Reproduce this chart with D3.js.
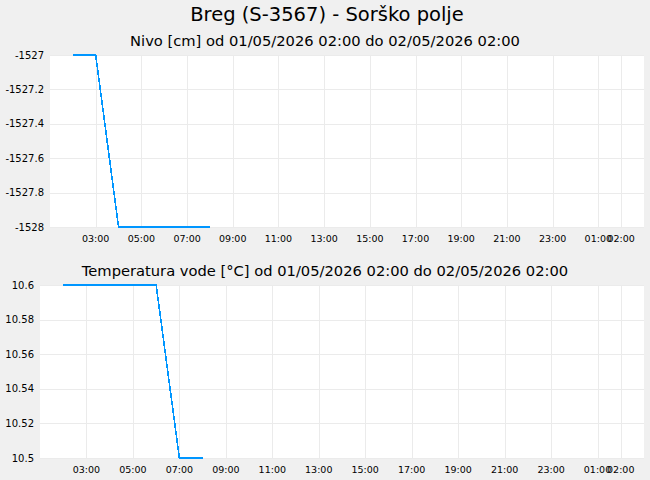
<!DOCTYPE html>
<html>
<head>
<meta charset="utf-8">
<script src="https://cdn.jsdelivr.net/npm/d3@7"></script>
<style>
  body { margin: 0; background: #f0f0f0; }
  svg { display: block; font-family: "DejaVu Sans", sans-serif; }
</style>
</head>
<body>
<div id="chart"></div>
<script>
// Readings (hourly) for station Breg (S-3567)
const times = ["2026-05-01T02:00", "2026-05-01T03:00", "2026-05-01T04:00", "2026-05-01T05:00",
  "2026-05-01T06:00", "2026-05-01T07:00", "2026-05-01T08:00"];
const levelValues = [-1527, -1527, -1528, -1528, -1528, -1528, -1528];
const tempValues = [10.6, 10.6, 10.6, 10.6, 10.6, 10.5, 10.5];

const periodStart = "2026-05-01T02:00";
const periodEnd = "2026-05-02T02:00";
const levelTicks = [-1527, -1527.2, -1527.4, -1527.6, -1527.8, -1528];
const tempTicks = [10.6, 10.58, 10.56, 10.54, 10.52, 10.5];

const title = "Breg (S-3567) - Sorško polje";
const levelTitle = "Nivo [cm] od 01/05/2026 02:00 do 02/05/2026 02:00";
const tempTitle = "Temperatura vode [°C] od 01/05/2026 02:00 do 02/05/2026 02:00";

const width = 650, height = 480;
const lineColor = "#0096ff";
const gridColor = "#ebebeb";

const svg = d3.select("#chart")
  .append("svg")
  .attr("width", width)
  .attr("height", height);

svg.append("rect").attr("width", width).attr("height", height).attr("fill", "#f0f0f0");

svg.append("text")
  .attr("x", width / 2 + 2)
  .attr("y", 14)
  .attr("text-anchor", "middle")
  .attr("dominant-baseline", "central")
  .attr("font-size", "19.5px")
  .text(title);

const start = new Date(periodStart);
const end = new Date(periodEnd);

function drawPanel(box, values, ticks, label) {
  // x domain padded by one hour on each side
  const x = d3.scaleTime()
    .domain([d3.timeHour.offset(start, -1), d3.timeHour.offset(end, 1)])
    .range([box.left, box.right]);
  const y = d3.scaleLinear()
    .domain([d3.min(ticks), d3.max(ticks)])
    .range([box.bottom, box.top]);

  const xTicks = d3.timeHour.range(d3.timeHour.offset(start, 1), end, 2).concat([end]);

  svg.append("text")
    .attr("x", width / 2)
    .attr("y", box.top - 15)
    .attr("text-anchor", "middle")
    .attr("dominant-baseline", "central")
    .attr("font-size", "14.7px")
    .text(label);

  svg.append("rect")
    .attr("x", box.left)
    .attr("y", box.top)
    .attr("width", box.right - box.left)
    .attr("height", box.bottom - box.top)
    .attr("fill", "#fff");

  const g = svg.append("g").attr("shape-rendering", "crispEdges");

  g.selectAll(".vgrid")
    .data(xTicks)
    .join("line")
    .attr("x1", (d) => Math.round(x(d)) + 0.5)
    .attr("x2", (d) => Math.round(x(d)) + 0.5)
    .attr("y1", box.top)
    .attr("y2", box.bottom)
    .attr("stroke", gridColor);

  g.selectAll(".hgrid")
    .data(ticks)
    .join("line")
    .attr("x1", box.left)
    .attr("x2", box.right)
    .attr("y1", (d) => Math.round(y(d)) + 0.5)
    .attr("y2", (d) => Math.round(y(d)) + 0.5)
    .attr("stroke", gridColor);

  svg.append("g")
    .selectAll("text")
    .data(ticks)
    .join("text")
    .attr("x", box.left - 6)
    .attr("y", (d) => y(d))
    .attr("text-anchor", "end")
    .attr("dominant-baseline", "central")
    .attr("font-size", "10px")
    .text((d) => String(+d.toFixed(2)));

  const fmt = d3.timeFormat("%H:%M");
  svg.append("g")
    .selectAll("text")
    .data(xTicks)
    .join("text")
    .attr("x", (d) => x(d))
    .attr("y", box.bottom + 11)
    .attr("text-anchor", "middle")
    .attr("dominant-baseline", "central")
    .attr("font-size", "9.5px")
    .text(fmt);

  const data = times.map((t, i) => ({ t: new Date(t), v: values[i] }));
  const line = d3.line()
    .x((d) => x(d.t))
    .y((d) => y(d.v));

  svg.append("path")
    .datum(data)
    .attr("d", line)
    .attr("fill", "none")
    .attr("stroke", lineColor)
    .attr("stroke-width", 1.6)
    .attr("shape-rendering", "crispEdges");
}

drawPanel({ left: 50, right: 644, top: 55, bottom: 227 }, levelValues, levelTicks, levelTitle);
drawPanel({ left: 40, right: 644, top: 285, bottom: 458 }, tempValues, tempTicks, tempTitle);
</script>
</body>
</html>
